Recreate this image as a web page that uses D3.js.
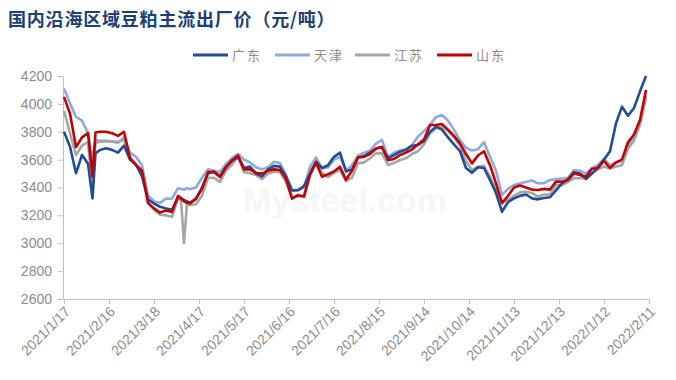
<!DOCTYPE html>
<html><head><meta charset="utf-8">
<script src="https://cdn.jsdelivr.net/npm/d3@7"></script>
<style>body{margin:0;background:#fff}svg{display:block}</style>
</head><body><svg id="c" width="676" height="380"></svg>
<script>
const dates = ["2021-01-17","2021-01-21","2021-01-25","2021-01-29","2021-02-02","2021-02-05","2021-02-07","2021-02-10","2021-02-14","2021-02-18","2021-02-22","2021-02-26",
"2021-03-02","2021-03-06","2021-03-10","2021-03-14","2021-03-18","2021-03-22","2021-03-26","2021-03-30","2021-04-03","2021-04-05","2021-04-07","2021-04-09","2021-04-11","2021-04-15","2021-04-19","2021-04-23","2021-04-27",
"2021-05-01","2021-05-05","2021-05-09","2021-05-13","2021-05-17","2021-05-21","2021-05-25","2021-05-29","2021-06-02","2021-06-06","2021-06-10","2021-06-14","2021-06-18","2021-06-22","2021-06-26","2021-06-30",
"2021-07-04","2021-07-08","2021-07-12","2021-07-16","2021-07-20","2021-07-24","2021-07-28","2021-08-01","2021-08-05","2021-08-09","2021-08-13","2021-08-17","2021-08-21","2021-08-25","2021-08-29",
"2021-09-02","2021-09-06","2021-09-10","2021-09-14","2021-09-18","2021-09-22","2021-09-26","2021-09-30","2021-10-04","2021-10-08","2021-10-12","2021-10-16","2021-10-20","2021-10-24","2021-10-28",
"2021-11-01","2021-11-05","2021-11-09","2021-11-13","2021-11-17","2021-11-21","2021-11-25","2021-11-29","2021-12-03","2021-12-07","2021-12-11","2021-12-15","2021-12-19","2021-12-23","2021-12-27","2021-12-31",
"2022-01-04","2022-01-08","2022-01-12","2022-01-16","2022-01-20","2022-01-24","2022-01-28","2022-02-01","2022-02-05","2022-02-09"];

const guangdong = [3800,3692,3502,3633,3570,3322,3645,3669,3681,3670,3650,3700,
3600,3565,3480,3315,3285,3262,3250,3240,3330,3320,3310,3300,3290,3320,3400,3500,3515,
3480,3550,3590,3620,3540,3550,3500,3480,3530,3555,3550,3480,3380,3380,3410,3500,
3585,3540,3560,3620,3650,3515,3530,3615,3625,3650,3680,3690,3610,3633,3657,
3670,3700,3705,3735,3800,3836,3815,3760,3710,3660,3540,3505,3545,3540,3454,
3360,3226,3295,3322,3340,3350,3322,3315,3325,3330,3380,3430,3460,3510,3500,3460,
3500,3545,3600,3660,3860,3980,3915,3970,4090,4200];

const tianjin = [4110,4004,3906,3880,3790,3600,3740,3735,3735,3730,3720,3760,
3650,3620,3560,3345,3300,3290,3320,3320,3395,3390,3385,3395,3390,3400,3470,3530,3520,
3510,3570,3612,3640,3600,3580,3545,3530,3545,3585,3575,3490,3375,3382,3400,3549,
3615,3537,3545,3600,3620,3520,3560,3630,3650,3665,3715,3741,3620,3650,3665,
3675,3705,3765,3805,3850,3905,3920,3880,3815,3740,3685,3665,3675,3725,3620,
3520,3346,3390,3418,3430,3440,3450,3430,3430,3454,3460,3465,3470,3525,3520,3500,
3540,3560,3605,3560,3580,3590,3700,3760,3860,4060];

const jiangsu = [3950,3789,3633,3700,3725,3382,3717,3729,3730,3730,3728,3740,
3620,3560,3530,3290,3240,3205,3200,3190,3320,3310,3000,3287,3274,3280,3340,3470,3470,
3440,3520,3565,3620,3510,3502,3490,3460,3500,3513,3510,3440,3334,3335,3340,3520,
3570,3505,3475,3505,3525,3445,3470,3575,3580,3610,3645,3645,3561,3575,3597,
3610,3640,3660,3710,3789,3825,3836,3805,3760,3700,3590,3526,3549,3555,3478,
3380,3298,3310,3340,3365,3370,3360,3334,3350,3350,3418,3418,3440,3466,3466,3466,
3502,3530,3550,3537,3550,3560,3680,3735,3850,4040];

const shandong = [4050,3930,3690,3760,3790,3480,3795,3800,3800,3790,3770,3800,
3610,3560,3520,3290,3250,3220,3235,3225,3340,3325,3300,3290,3285,3320,3390,3510,3510,
3475,3545,3595,3630,3530,3530,3505,3500,3520,3530,3526,3460,3320,3345,3335,3490,
3580,3477,3495,3515,3549,3455,3520,3617,3620,3640,3680,3690,3595,3605,3633,
3650,3672,3710,3745,3848,3848,3855,3815,3770,3717,3640,3573,3630,3660,3560,
3430,3287,3340,3400,3414,3400,3385,3382,3390,3385,3442,3442,3454,3500,3490,3478,
3535,3540,3590,3540,3580,3600,3725,3780,3884,4100];

const seriesNames = ["广东","天津","江苏","山东"];
const seriesColors = ["#1f4e96","#8eaadb","#a6a6a6","#c00000"];
const yTicks = [2600,2800,3000,3200,3400,3600,3800,4000,4200];
const xTickLabels = ["2021/1/17","2021/2/16","2021/3/18","2021/4/17","2021/5/17","2021/6/16","2021/7/16","2021/8/15","2021/9/14","2021/10/14","2021/11/13","2021/12/13","2022/1/12","2022/2/11"];

const allSeries = [guangdong, tianjin, jiangsu, shandong];
allSeries.forEach((s,i)=>{ if (s.length !== dates.length) throw new Error(seriesNames[i]+" length "+s.length+" vs "+dates.length); });

const parse = d3.timeParse("%Y-%m-%d");
const parseTick = d3.timeParse("%Y/%m/%d");
const dd = dates.map(parse);
const tickDates = xTickLabels.map(parseTick);

const svg = d3.select("#c");
svg.append("rect").attr("width",676).attr("height",380).attr("fill","#fff");

const x = d3.scaleTime().domain([tickDates[0], tickDates[tickDates.length-1]]).range([64, 649]);
const y = d3.scaleLinear().domain([2600, 4200]).range([299, 76]);

// watermark
svg.append("text").attr("x", 345).attr("y", 212).attr("text-anchor","middle")
  .attr("font-family","Liberation Sans, Arial, sans-serif").attr("font-size",34).attr("font-weight","bold")
  .attr("fill","#f5f6f9").text("Mysteel.com");

// title
svg.append("text").attr("x", 8).attr("y", 26)
  .attr("font-family","'Noto Sans CJK SC', sans-serif").attr("font-size",18).attr("font-weight","bold")
  .attr("fill","#203f74").attr("letter-spacing", 0.8).text("国内沿海区域豆粕主流出厂价（元/吨）");

// axes
const fmt = d3.timeFormat("%Y/%-m/%-d");
const xAxis = svg.append("g").attr("transform","translate(0,299)")
  .call(d3.axisBottom(x).tickValues(tickDates).tickFormat(fmt).tickSize(5).tickSizeOuter(0));
xAxis.select(".domain").attr("stroke","#bfbfbf");
xAxis.selectAll(".tick line").attr("stroke","#bfbfbf");
xAxis.selectAll(".tick text").attr("fill","#8c8c8c")
  .attr("font-family","Liberation Sans, Arial, sans-serif").attr("font-size",14)
  .attr("text-anchor","end").attr("dy","0.35em")
  .attr("transform","translate(3,10) rotate(-45)").attr("y",0).attr("x",0);

const yAxis = svg.append("g").attr("transform","translate(63,0)")
  .call(d3.axisLeft(y).tickValues(yTicks).tickFormat(d3.format("d")).tickSize(5).tickSizeOuter(0).tickPadding(6));
yAxis.select(".domain").attr("stroke","#bfbfbf");
yAxis.selectAll(".tick line").attr("stroke","#bfbfbf");
yAxis.selectAll(".tick text").attr("fill","#8c8c8c")
  .attr("font-family","Liberation Sans, Arial, sans-serif").attr("font-size",14);

// lines
const line = d3.line().x((d,i)=>x(dd[i])).y(d=>y(d));
const drawOrder = [1,2,0,3];
drawOrder.forEach(i=>{
  svg.append("path").datum(allSeries[i]).attr("d", line)
    .attr("fill","none").attr("stroke", seriesColors[i]).attr("stroke-width", 2.6)
    .attr("stroke-linejoin","round");
});

// legend
const legendX = [193, 275, 355, 437];
const lg = svg.append("g");
seriesNames.forEach((n,i)=>{
  lg.append("line").attr("x1", legendX[i]).attr("x2", legendX[i]+35).attr("y1",55).attr("y2",55)
    .attr("stroke", seriesColors[i]).attr("stroke-width",3);
  lg.append("text").attr("x", legendX[i]+39).attr("y", 60)
    .attr("font-family","'Noto Sans CJK SC', sans-serif").attr("font-size",13)
    .attr("fill","#8c8c8c").attr("letter-spacing",2).text(n);
});
</script></body></html>
